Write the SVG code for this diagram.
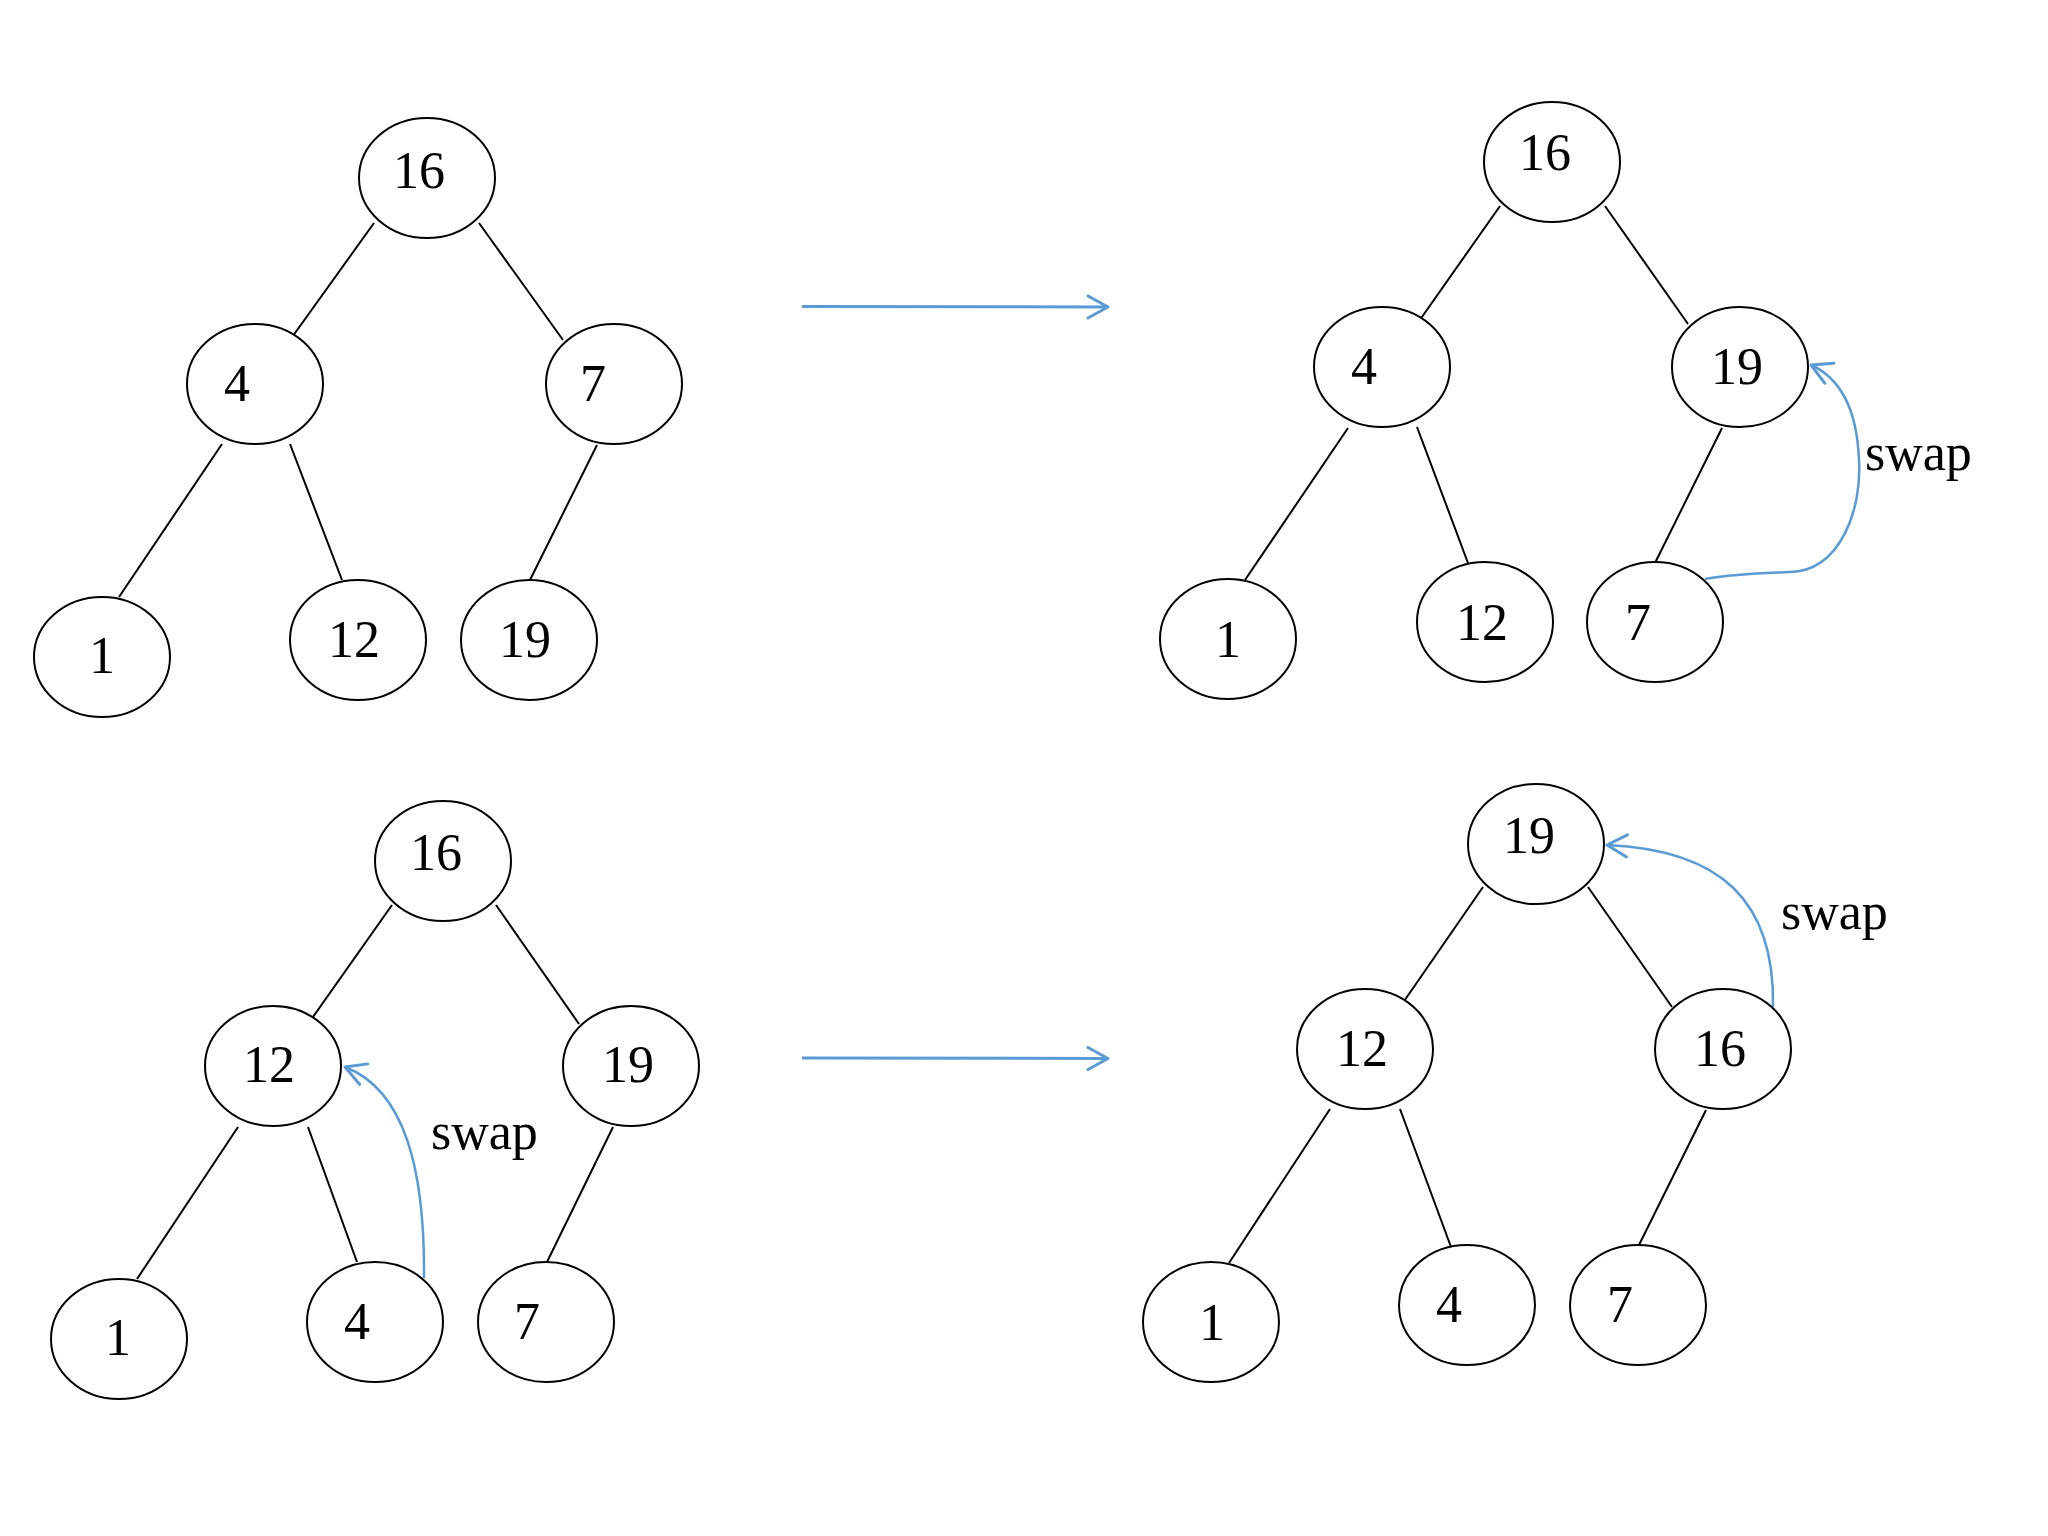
<svg xmlns="http://www.w3.org/2000/svg" width="2048" height="1536" viewBox="0 0 2048 1536">
<style>
.n ellipse{fill:#fff;stroke:#000;stroke-width:2}
.n text,.lbl{font-family:"Liberation Serif","Times New Roman",serif;font-size:52px;fill:#000}
.n text{text-anchor:middle}
.e line{stroke:#000;stroke-width:2}
.b{fill:none;stroke:#5B9BD5;stroke-width:3;marker-end:url(#ah)}
.s{fill:none;stroke:#5B9BD5;stroke-width:2.5;marker-end:url(#ah)}
</style>
<defs>
<marker id="ah" viewBox="0 0 22 24" refX="21" refY="12" markerWidth="22" markerHeight="24" markerUnits="userSpaceOnUse" orient="auto" overflow="visible">
<path d="M1,1 L21,12 L1,23" fill="none" stroke="#5B9BD5" stroke-width="3" stroke-linecap="round" stroke-linejoin="round"/>
</marker>
</defs>
<rect width="2048" height="1536" fill="#fff"/>
<g id="connectors">
<g class="e">
<line x1="374" y1="223" x2="290" y2="340"/>
<line x1="479" y1="223" x2="563" y2="340"/>
<line x1="222" y1="444" x2="119" y2="597"/>
<line x1="290" y1="444" x2="342" y2="580"/>
<line x1="597" y1="445" x2="530" y2="580"/>
<line x1="1500" y1="206" x2="1417" y2="324"/>
<line x1="1605" y1="206" x2="1688" y2="324"/>
<line x1="1348" y1="428" x2="1245" y2="580"/>
<line x1="1417" y1="427" x2="1468" y2="563"/>
<line x1="1722" y1="428" x2="1655" y2="563"/>
<line x1="392" y1="905" x2="308" y2="1024"/>
<line x1="496" y1="905" x2="579" y2="1024"/>
<line x1="238" y1="1127" x2="137" y2="1279"/>
<line x1="308" y1="1127" x2="357" y2="1262"/>
<line x1="613" y1="1127" x2="547" y2="1262"/>
<line x1="1483" y1="887" x2="1400" y2="1007"/>
<line x1="1588" y1="887" x2="1672" y2="1007"/>
<line x1="1330" y1="1109" x2="1229" y2="1263"/>
<line x1="1400" y1="1109" x2="1451" y2="1247"/>
<line x1="1706" y1="1110" x2="1638" y2="1247"/>
</g>
<path class="b" d="M802,306.5 L1108,307"/>
<path class="b" d="M802,1058 L1108,1058.5"/>
<path class="s" d="M1705,579 C1740,573 1770,573 1790,572 C1840,571 1862,510 1859,460 C1857,410 1840,378 1811,365"/>
<path class="s" d="M424,1278 C425,1170 405,1090 345,1067"/>
<path class="s" d="M1773,1007 C1775,900 1720,850 1607,845"/>
</g>
<text class="lbl" x="1865" y="470">swap</text>
<text class="lbl" x="431" y="1149">swap</text>
<text class="lbl" x="1781" y="929">swap</text>
<g id="t1-16" class="n"><ellipse cx="427" cy="178" rx="68" ry="60"/><text x="419" y="188">16</text></g>
<g id="t1-4" class="n"><ellipse cx="255" cy="384" rx="68" ry="60"/><text x="237" y="401">4</text></g>
<g id="t1-7" class="n"><ellipse cx="614" cy="384" rx="68" ry="60"/><text x="593" y="401">7</text></g>
<g id="t1-1" class="n"><ellipse cx="102" cy="657" rx="68" ry="60"/><text x="102" y="673">1</text></g>
<g id="t1-12" class="n"><ellipse cx="358" cy="640" rx="68" ry="60"/><text x="354" y="657">12</text></g>
<g id="t1-19" class="n"><ellipse cx="529" cy="640" rx="68" ry="60"/><text x="525" y="657">19</text></g>
<g id="t2-16" class="n"><ellipse cx="1552" cy="162" rx="68" ry="60"/><text x="1545" y="170">16</text></g>
<g id="t2-4" class="n"><ellipse cx="1382" cy="367" rx="68" ry="60"/><text x="1364" y="384">4</text></g>
<g id="t2-19" class="n"><ellipse cx="1740" cy="367" rx="68" ry="60"/><text x="1737" y="384">19</text></g>
<g id="t2-1" class="n"><ellipse cx="1228" cy="639" rx="68" ry="60"/><text x="1228" y="657">1</text></g>
<g id="t2-12" class="n"><ellipse cx="1485" cy="622" rx="68" ry="60"/><text x="1482" y="640">12</text></g>
<g id="t2-7" class="n"><ellipse cx="1655" cy="622" rx="68" ry="60"/><text x="1638" y="640">7</text></g>
<g id="t3-16" class="n"><ellipse cx="443" cy="861" rx="68" ry="60"/><text x="436" y="870">16</text></g>
<g id="t3-12" class="n"><ellipse cx="273" cy="1066" rx="68" ry="60"/><text x="269" y="1082">12</text></g>
<g id="t3-19" class="n"><ellipse cx="631" cy="1066" rx="68" ry="60"/><text x="628" y="1082">19</text></g>
<g id="t3-1" class="n"><ellipse cx="119" cy="1339" rx="68" ry="60"/><text x="118" y="1355">1</text></g>
<g id="t3-4" class="n"><ellipse cx="375" cy="1322" rx="68" ry="60"/><text x="357" y="1339">4</text></g>
<g id="t3-7" class="n"><ellipse cx="546" cy="1322" rx="68" ry="60"/><text x="527" y="1339">7</text></g>
<g id="t4-19" class="n"><ellipse cx="1536" cy="844" rx="68" ry="60"/><text x="1529" y="853">19</text></g>
<g id="t4-12" class="n"><ellipse cx="1365" cy="1049" rx="68" ry="60"/><text x="1362" y="1066">12</text></g>
<g id="t4-16" class="n"><ellipse cx="1723" cy="1049" rx="68" ry="60"/><text x="1720" y="1066">16</text></g>
<g id="t4-1" class="n"><ellipse cx="1211" cy="1322" rx="68" ry="60"/><text x="1212" y="1340">1</text></g>
<g id="t4-4" class="n"><ellipse cx="1467" cy="1305" rx="68" ry="60"/><text x="1449" y="1322">4</text></g>
<g id="t4-7" class="n"><ellipse cx="1638" cy="1305" rx="68" ry="60"/><text x="1620" y="1322">7</text></g>
</svg>
